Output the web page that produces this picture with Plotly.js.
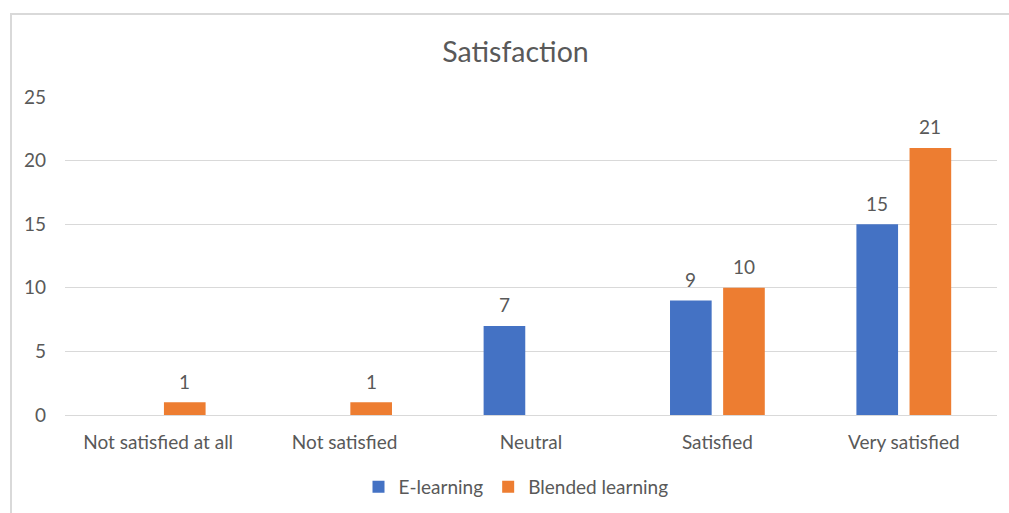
<!DOCTYPE html>
<html>
<head>
<meta charset="utf-8">
<script src="https://cdn.plot.ly/plotly-3.0.1.min.js"></script>
<style>html,body{margin:0;padding:0;background:#fff;}#chart{width:1009px;height:513px;}</style>
</head>
<body>
<div id="chart"></div>
<script>
const categories = ["Not satisfied at all", "Not satisfied", "Neutral", "Satisfied", "Very satisfied"];
const eLearning = [0, 0, 7, 9, 15];
const blended = [1, 1, 0, 10, 21];
const yTicks = [0, 5, 10, 15, 20, 25];

const FONT = "Lato, 'Open Sans', sans-serif";
const GRAY = "#595959";
const FS = 19;

const traces = [
  {type: "bar", name: "E-learning", x: categories, y: eLearning, marker: {color: "#4472C4"}, hoverinfo: "y"},
  {type: "bar", name: "Blended learning", x: categories, y: blended, marker: {color: "#ED7D31"}, hoverinfo: "y"}
];

// data labels placed through the axis scales (skip zero values, as in the reference)
const annotations = [];
[[eLearning, -26.6], [blended, 26.6]].forEach(([vals, dx]) => {
  vals.forEach((v, i) => {
    if (!v) return;
    annotations.push({xref: "x", yref: "y", x: categories[i], y: v, text: String(v), showarrow: false,
      xshift: dx, yshift: 21, yanchor: "middle", xanchor: "center",
      font: {family: FONT, size: FS, color: GRAY}});
  });
});

const layout = {
  width: 1009, height: 513,
  margin: {l: 65, r: 12, t: 97, b: 98},
  paper_bgcolor: "#fff", plot_bgcolor: "#fff",
  font: {family: FONT, color: GRAY, size: FS},
  title: {text: "Satisfaction", font: {family: FONT, size: 28.5, color: GRAY},
          x: 515.5/1009, xref: "container", xanchor: "center", y: 1 - 52/513, yref: "container", yanchor: "middle"},
  barmode: "group", bargap: 0.43, bargroupgap: 0.216,
  xaxis: {type: "category", showgrid: false, showline: false, ticks: "", zeroline: false,
          ticklabelstandoff: 14, tickfont: {family: FONT, size: FS, color: GRAY}},
  yaxis: {range: [0, 25], tickvals: yTicks, showgrid: true, gridcolor: "#d9d9d9", gridwidth: 1,
          zeroline: true, zerolinecolor: "#d9d9d9", zerolinewidth: 1, showline: false, ticks: "",
          ticklabelstandoff: 18, tickfont: {family: FONT, size: FS, color: GRAY}},
  showlegend: true,
  legend: {orientation: "h", x: 516/1009, xref: "container", xanchor: "center", y: 1 - 487/513, yref: "container", yanchor: "middle",
           font: {family: FONT, size: FS, color: GRAY}, itemwidth: 30, traceorder: "normal"},
  annotations: annotations,
  shapes: [{type: "rect", xref: "paper", yref: "paper", x0: -54/932, x1: 1.05, y0: -0.4, y1: (513-14-98)/318,
            line: {color: "#d9d9d9", width: 2}, fillcolor: "rgba(0,0,0,0)", layer: "below"}]
};

Plotly.newPlot("chart", traces, layout, {displayModeBar: false, staticPlot: true});
</script>
</body>
</html>
